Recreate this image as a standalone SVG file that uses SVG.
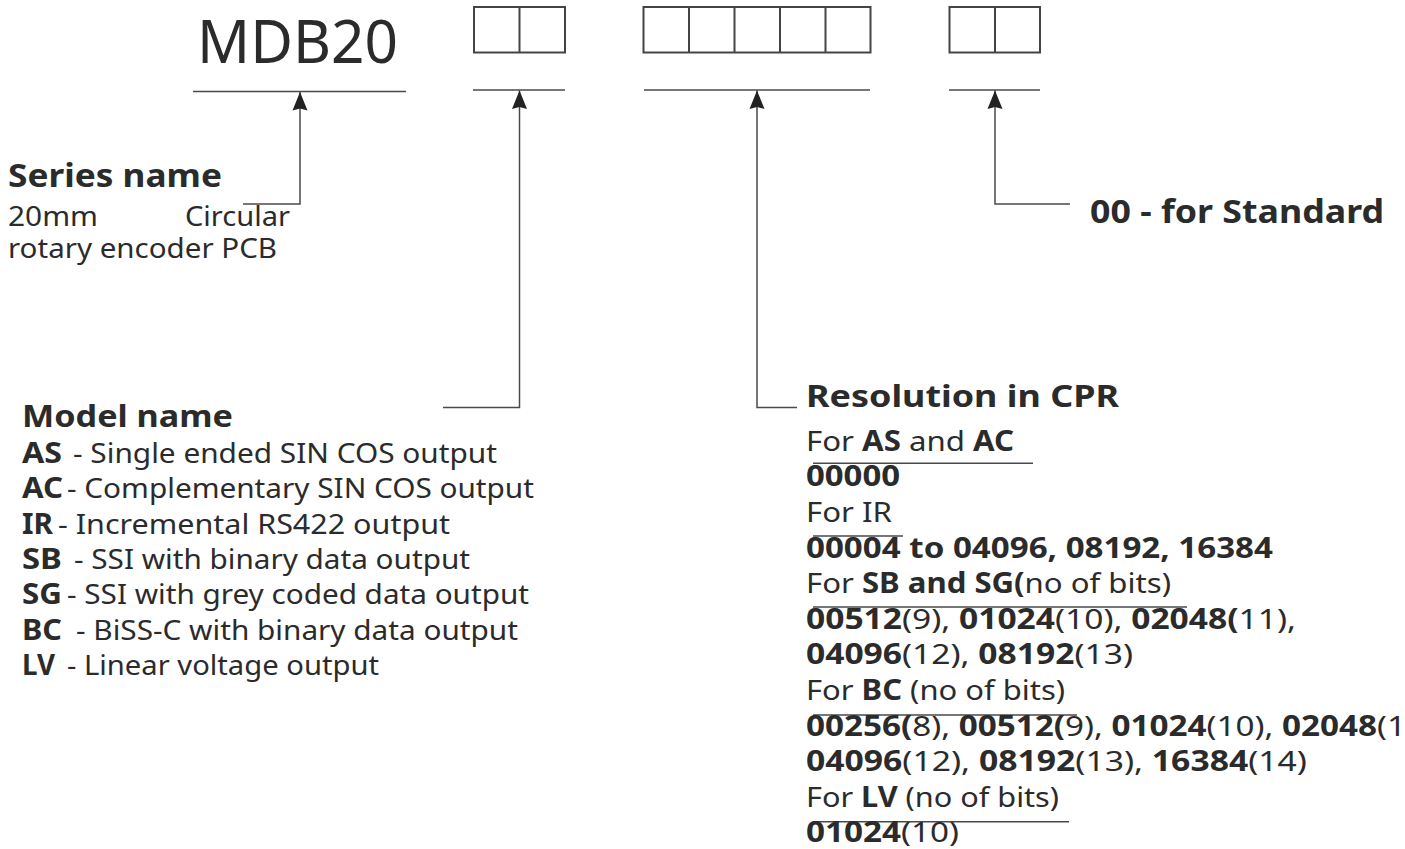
<svg xmlns="http://www.w3.org/2000/svg" width="1405" height="849" viewBox="0 0 1405 849">
<style>
text{font-family:"Noto Sans","Open Sans","DejaVu Sans",sans-serif;fill:#2b2b2b}
.b{font-weight:700}
.t28{font-size:28px}
.box{fill:none;stroke:#444;stroke-width:2}
.ln{fill:none;stroke:#4a4a4a;stroke-width:1.5}
.conn{fill:none;stroke:#4a4a4a;stroke-width:1.5}
</style>
<defs>
<marker id="ah" markerUnits="userSpaceOnUse" markerWidth="19" markerHeight="16" viewBox="0 0 19 16" refX="18.5" refY="8" orient="auto-start-reverse">
<path d="M0,0.5 L18.5,8 L0,15.5 L2,8 Z" fill="#222"/>
</marker>
</defs>
<rect width="1405" height="849" fill="#fff"/>

<g id="code">
<text x="197" y="63" font-size="61" textLength="201" lengthAdjust="spacingAndGlyphs">MDB20</text>
<line class="ln" x1="193" y1="91.5" x2="406" y2="91.5"/>
</g>

<g id="field-model-boxes">
<rect class="box" x="474" y="7" width="91" height="45.5"/>
<line class="box" x1="519.5" y1="7" x2="519.5" y2="52.5"/>
<line class="ln" x1="473" y1="90" x2="565" y2="90"/>
</g>

<g id="field-resolution-boxes">
<rect class="box" x="643.5" y="7" width="227" height="45.5"/>
<line class="box" x1="689" y1="7" x2="689" y2="52.5"/>
<line class="box" x1="734.5" y1="7" x2="734.5" y2="52.5"/>
<line class="box" x1="780" y1="7" x2="780" y2="52.5"/>
<line class="box" x1="825.5" y1="7" x2="825.5" y2="52.5"/>
<line class="ln" x1="644" y1="90" x2="870" y2="90"/>
</g>

<g id="field-standard-boxes">
<rect class="box" x="949.5" y="7" width="90.5" height="45.5"/>
<line class="box" x1="995" y1="7" x2="995" y2="52.5"/>
<line class="ln" x1="949" y1="90" x2="1040" y2="90"/>
</g>

<g id="connectors">
<path class="conn" marker-start="url(#ah)" d="M300,92 V204 H243"/>
<path class="conn" marker-start="url(#ah)" d="M519.5,90.5 V407.5 H443"/>
<path class="conn" marker-start="url(#ah)" d="M757,90.5 V407.5 H797"/>
<path class="conn" marker-start="url(#ah)" d="M995,90.5 V204 H1070"/>
</g>

<g id="series-name">
<text class="b" x="8" y="187" font-size="33" textLength="214" lengthAdjust="spacingAndGlyphs">Series name</text>
<text class="t28" x="8" y="226" textLength="90" lengthAdjust="spacingAndGlyphs">20mm</text>
<text class="t28" x="185" y="226" textLength="105" lengthAdjust="spacingAndGlyphs">Circular</text>
<text class="t28" x="8" y="258" textLength="269" lengthAdjust="spacingAndGlyphs">rotary encoder PCB</text>
</g>

<g id="model-name">
<text class="b" x="22" y="427" font-size="31" textLength="211" lengthAdjust="spacingAndGlyphs">Model name</text>
<text class="b t28" x="22" y="463" textLength="40" lengthAdjust="spacingAndGlyphs">AS</text>
<text class="t28" x="73" y="463" textLength="424" lengthAdjust="spacingAndGlyphs">- Single ended SIN COS output</text>
<text class="b t28" x="22" y="498.3" textLength="41" lengthAdjust="spacingAndGlyphs">AC</text>
<text class="t28" x="67" y="498.3" textLength="467" lengthAdjust="spacingAndGlyphs">- Complementary SIN COS output</text>
<text class="b t28" x="22" y="533.6" textLength="31" lengthAdjust="spacingAndGlyphs">IR</text>
<text class="t28" x="58" y="533.6" textLength="392" lengthAdjust="spacingAndGlyphs">- Incremental RS422 output</text>
<text class="b t28" x="22" y="568.9" textLength="40" lengthAdjust="spacingAndGlyphs">SB</text>
<text class="t28" x="74" y="568.9" textLength="396" lengthAdjust="spacingAndGlyphs">- SSI with binary data output</text>
<text class="b t28" x="22" y="604.2" textLength="40" lengthAdjust="spacingAndGlyphs">SG</text>
<text class="t28" x="67" y="604.2" textLength="462" lengthAdjust="spacingAndGlyphs">- SSI with grey coded data output</text>
<text class="b t28" x="22" y="639.5" textLength="40" lengthAdjust="spacingAndGlyphs">BC</text>
<text class="t28" x="76" y="639.5" textLength="442" lengthAdjust="spacingAndGlyphs">- BiSS-C with binary data output</text>
<text class="b t28" x="22" y="674.8" textLength="33" lengthAdjust="spacingAndGlyphs">LV</text>
<text class="t28" x="67" y="674.8" textLength="312" lengthAdjust="spacingAndGlyphs">- Linear voltage output</text>
</g>

<g id="resolution">
<text class="b" x="806" y="407" font-size="31" textLength="313" lengthAdjust="spacingAndGlyphs">Resolution in CPR</text>
<text class="t28" x="806" y="450.7" textLength="208" lengthAdjust="spacingAndGlyphs">For <tspan class="b">AS</tspan> and <tspan class="b">AC</tspan></text>
<line class="ln" x1="813" y1="463.3" x2="1033" y2="463.3"/>
<text class="t28 b" x="806" y="486.3" textLength="94" lengthAdjust="spacingAndGlyphs">00000</text>
<text class="t28" x="806" y="521.9" textLength="86" lengthAdjust="spacingAndGlyphs">For IR</text>
<line class="ln" x1="813" y1="536" x2="903" y2="536"/>
<text class="t28 b" x="806" y="557.5" textLength="467" lengthAdjust="spacingAndGlyphs">00004 to 04096, 08192, 16384</text>
<text class="t28" x="806" y="593.1" textLength="365" lengthAdjust="spacingAndGlyphs">For <tspan class="b">SB and SG(</tspan>no of bits)</text>
<line class="ln" x1="813" y1="607" x2="1187" y2="607"/>
<text class="t28" x="806" y="628.7" textLength="490" lengthAdjust="spacingAndGlyphs"><tspan class="b">00512</tspan>(9), <tspan class="b">01024</tspan>(10), <tspan class="b">02048(</tspan>11),</text>
<text class="t28" x="806" y="664.3" textLength="327" lengthAdjust="spacingAndGlyphs"><tspan class="b">04096</tspan>(12), <tspan class="b">08192</tspan>(13)</text>
<text class="t28" x="806" y="699.9" textLength="259" lengthAdjust="spacingAndGlyphs">For <tspan class="b">BC</tspan> (no of bits)</text>
<line class="ln" x1="813" y1="715" x2="1077" y2="715"/>
<text class="t28" x="806" y="735.5" textLength="600" lengthAdjust="spacingAndGlyphs"><tspan class="b">00256(</tspan>8), <tspan class="b">00512(</tspan>9), <tspan class="b">01024</tspan>(10), <tspan class="b">02048</tspan>(1</text>
<text class="t28" x="806" y="771.1" textLength="501" lengthAdjust="spacingAndGlyphs"><tspan class="b">04096</tspan>(12), <tspan class="b">08192</tspan>(13), <tspan class="b">16384</tspan>(14)</text>
<text class="t28" x="806" y="806.7" textLength="253" lengthAdjust="spacingAndGlyphs">For <tspan class="b">LV</tspan> (no of bits)</text>
<line class="ln" x1="813" y1="821.7" x2="1069" y2="821.7"/>
<text class="t28" x="806" y="842.3" textLength="153" lengthAdjust="spacingAndGlyphs"><tspan class="b">01024</tspan>(10)</text>
</g>

<g id="standard">
<text class="b" x="1090" y="223" font-size="33" textLength="294" lengthAdjust="spacingAndGlyphs">00 - for Standard</text>
</g>
</svg>
